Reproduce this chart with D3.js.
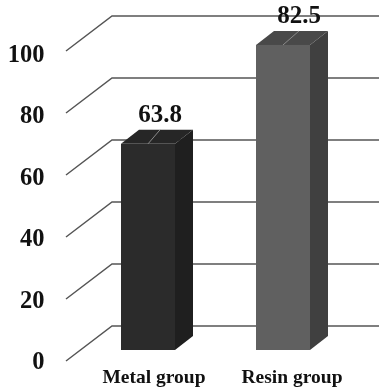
<!DOCTYPE html>
<html>
<head>
<meta charset="utf-8">
<script src="https://cdn.jsdelivr.net/npm/d3@7"></script>
<style>
    html, body { margin: 0; padding: 0; background: #fff; }
    svg { display: block; filter: blur(0.35px); }
    text { font-family: "Liberation Serif", serif; font-weight: bold; fill: #111; }
</style>
</head>
<body>
<div id="chart"></div>
<script>
// data
const groups = ['Metal group', 'Resin group'];
const barHeights = [66.5, 98.4];     // what the bars measure against the axis
const barLabels = ['63.8', '82.5'];  // what is printed above them
const yTicks = [0, 20, 40, 60, 80, 100];
const frontColors = ['#2b2b2b', '#606060'];
const sideColors = ['#1f1f1f', '#404040'];
const topColors = ['#262626', '#494949'];

const width = 379, height = 389;
const depth = {wall: {dx: 46, dy: -35}, bar: {dx: 18, dy: -14}};

let svg = d3.select('#chart').append('svg')
    .attr('width', width)
    .attr('height', height);

// y for the left edge of the floor/wall
let yScale = d3.scaleLinear().domain([0, 100]).range([361, 51]);
// the tick labels are spaced a little tighter than the gridlines
let labelScale = d3.scaleLinear().domain([0, 100]).range([361, 53.5]);
// y for the front face of the bars
let barScale = d3.scaleLinear().domain([0, 100]).range([350, 40]);
let xScale = d3.scaleBand().domain(groups).range([80.5, 350.5])
    .paddingInner(0.6).paddingOuter(0.3);

// Gridlines: slanted piece, then along the back wall
svg.append('g').selectAll('path')
    .data(yTicks)
    .join('path')
        .attr('fill', 'none')
        .attr('stroke', '#555')
        .attr('stroke-width', 1.5)
        .attr('d', d => `M66,${yScale(d)}L${66 + depth.wall.dx},${yScale(d) + depth.wall.dy}H${width}`);

// Tick labels
let yAxis = d3.axisLeft(labelScale).tickValues(yTicks).tickSize(0).tickPadding(0);
svg.append('g')
    .attr('transform', 'translate(44.5, 0)')
    .call(yAxis)
    .call(g => g.select('.domain').remove())
    .selectAll('text')
        .attr('font-size', 24.5)
        .style('font-family', '"Liberation Serif", serif');

// Bars
let bars = svg.append('g').selectAll('g')
    .data(groups)
    .join('g');

let dx = depth.bar.dx, dy = depth.bar.dy, bw = xScale.bandwidth();

bars.append('path')
    .attr('fill', (d, i) => sideColors[i])
    .attr('d', (d, i) => {
        let x = xScale(d) + bw, t = barScale(barHeights[i]), b = barScale(0);
        return `M${x},${t}l${dx},${dy}V${b + dy}L${x},${b}Z`;
    });

bars.append('path')
    .attr('fill', (d, i) => topColors[i])
    .attr('d', (d, i) => {
        let x = xScale(d), t = barScale(barHeights[i]);
        return `M${x},${t}l${dx},${dy}h${bw}l${-dx},${-dy}Z`;
    });

bars.append('rect')
    .attr('fill', (d, i) => frontColors[i])
    .attr('x', d => xScale(d))
    .attr('y', (d, i) => barScale(barHeights[i]))
    .attr('width', bw)
    .attr('height', (d, i) => barScale(0) - barScale(barHeights[i]));

// Leader from the value label down to the bar top
bars.append('line')
    .attr('stroke', '#8a8a8a')
    .attr('stroke-width', 1)
    .attr('x1', d => xScale(d) + bw / 2)
    .attr('y1', (d, i) => barScale(barHeights[i]))
    .attr('x2', (d, i) => xScale(d) + bw / 2 + 12 + 4 * i)
    .attr('y2', (d, i) => barScale(barHeights[i]) + dy);

// Value labels
bars.append('text')
    .attr('text-anchor', 'middle')
    .attr('font-size', 25)
    .attr('x', (d, i) => xScale(d) + bw / 2 + 12 + 4 * i)
    .attr('y', (d, i) => barScale(barHeights[i]) - 22)
    .text((d, i) => barLabels[i]);

// Category labels
bars.append('text')
    .attr('text-anchor', 'middle')
    .attr('font-size', 19.5)
    .attr('x', (d, i) => xScale(d) + bw / 2 + 6 + 3 * i)
    .attr('y', 383)
    .text(d => d);
</script>
</body>
</html>
